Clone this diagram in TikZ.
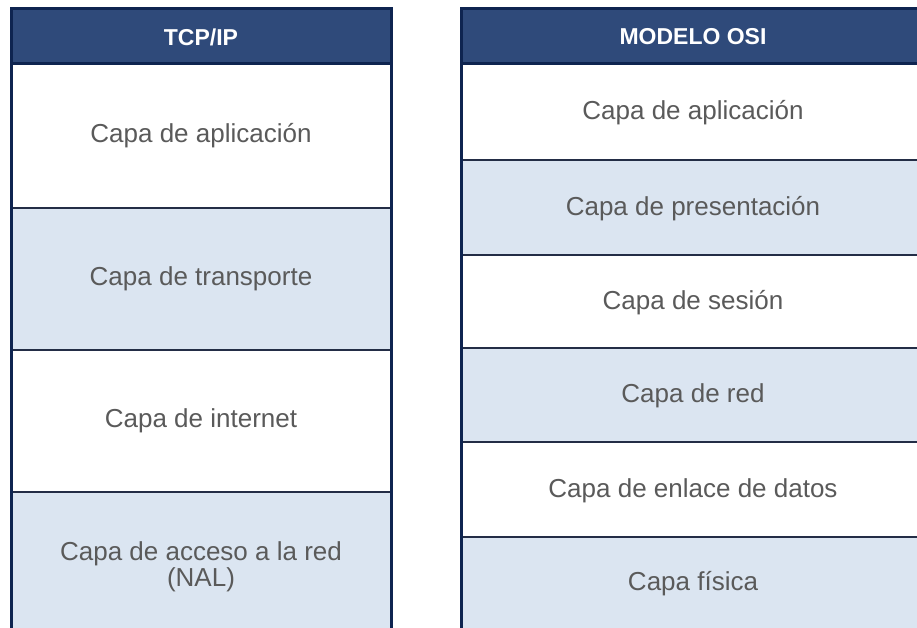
\documentclass[tikz,border=0pt]{standalone}
\usepackage{fontspec}
\setmainfont{Liberation Sans}
\definecolor{hdrfill}{RGB}{47,74,122}
\definecolor{navy}{RGB}{14,36,80}
\definecolor{rowlight}{RGB}{219,229,241}
\definecolor{txtgray}{RGB}{90,90,90}
\definecolor{divline}{RGB}{35,45,70}
\tikzset{
  hdrtext/.style={text=white, font=\bfseries\fontsize{23}{23}\selectfont, inner sep=0pt},
  rowtext/.style={text=txtgray, font=\fontsize{26}{26}\selectfont, align=center, inner sep=0pt},
  divider/.style={draw=divline, line width=1.5pt},
  outer/.style={draw=navy, line width=3pt},
}
\begin{document}
\begin{tikzpicture}[x=1pt,y=-1pt]
\useasboundingbox (0,0) rectangle (917,628);
\clip (0,0) rectangle (917,628);
\fill[white] (0,0) rectangle (917,628);
% ---------- Left table (TCP/IP) ----------
\fill[white] (11.5,64) rectangle (391,208);
\fill[rowlight] (11.5,208) rectangle (391,350);
\fill[white] (11.5,350) rectangle (391,492);
\fill[rowlight] (11.5,492) rectangle (391,640);
\draw[divider] (11.5,208) -- (391,208);
\draw[divider] (11.5,350) -- (391,350);
\draw[divider] (11.5,492) -- (391,492);
\fill[hdrfill] (11.5,8.5) rectangle (391,64);
\draw[outer] (11.5,640) -- (11.5,8.5) -- (391,8.5) -- (391,640);
\draw[outer] (11.5,64) -- (391,64);
\node[hdrtext] (lh) at (201,37) {TCP/IP};
\node[rowtext] (l1) at (201,136) {Capa de aplicación};
\node[rowtext] (l2) at (201,279) {Capa de transporte};
\node[rowtext] (l3) at (201,421) {Capa de internet};
\node[rowtext] (l4) at (201,567) {Capa de acceso a la red\\(NAL)};
% ---------- Right table (OSI) ----------
\fill[white] (461.5,64) rectangle (930,160);
\fill[rowlight] (461.5,160) rectangle (930,255);
\fill[white] (461.5,255) rectangle (930,348);
\fill[rowlight] (461.5,348) rectangle (930,442);
\fill[white] (461.5,442) rectangle (930,537);
\fill[rowlight] (461.5,537) rectangle (930,640);
\draw[divider] (461.5,160) -- (930,160);
\draw[divider] (461.5,255) -- (930,255);
\draw[divider] (461.5,348) -- (930,348);
\draw[divider] (461.5,442) -- (930,442);
\draw[divider] (461.5,537) -- (930,537);
\fill[hdrfill] (461.5,8.5) rectangle (930,64);
\draw[outer] (461.5,640) -- (461.5,8.5) -- (930,8.5);
\draw[outer] (461.5,64) -- (930,64);
\node[hdrtext] (rh) at (693,37) {MODELO OSI};
\node[rowtext] (r1) at (693,113) {Capa de aplicación};
\node[rowtext] (r2) at (693,209) {Capa de presentación};
\node[rowtext] (r3) at (693,303) {Capa de sesión};
\node[rowtext] (r4) at (693,396) {Capa de red};
\node[rowtext] (r5) at (693,491) {Capa de enlace de datos};
\node[rowtext] (r6) at (693,584) {Capa física};
\end{tikzpicture}
\end{document}
